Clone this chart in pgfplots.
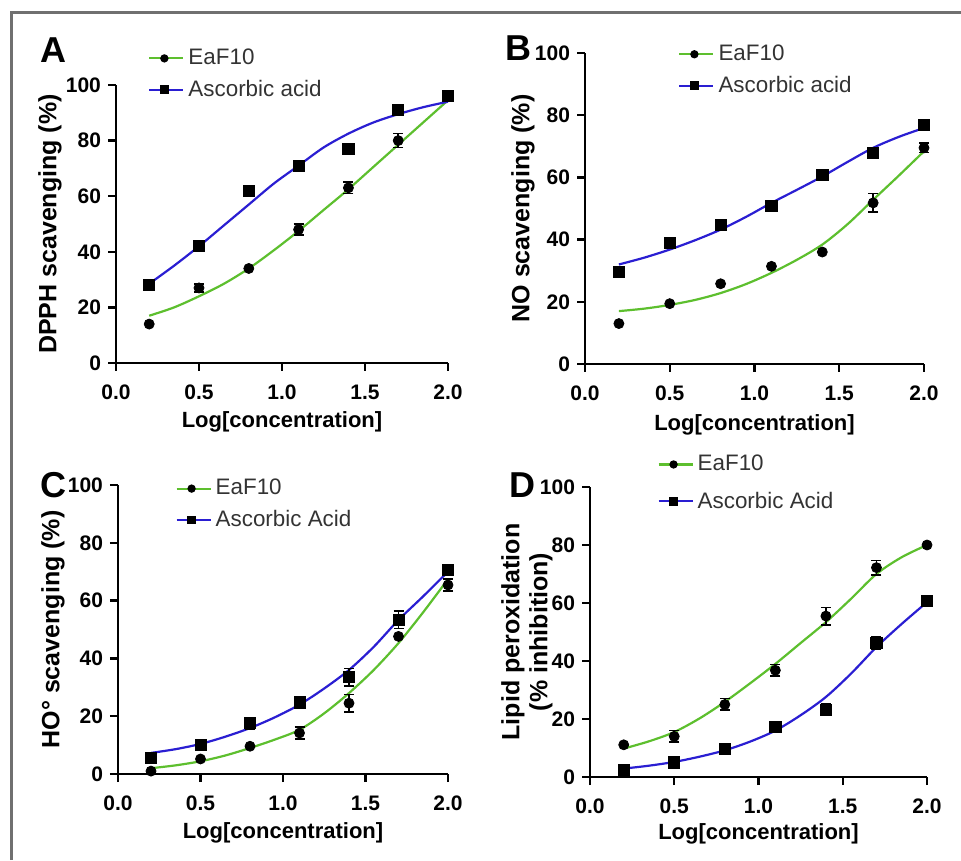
\documentclass[border=0pt]{standalone}
\usepackage{fontspec}
\setmainfont{Liberation Sans}
\usepackage{pgfplots}
\pgfplotsset{compat=1.18}
\definecolor{grn}{HTML}{5DBF2E}
\definecolor{blu}{HTML}{2A1ED2}
\definecolor{frame}{HTML}{707070}

\pgfplotsset{
  panel/.style={
    scale only axis, clip=false,
    axis lines*=left,
    axis line style={line width=1.2pt},
    tick align=outside, major tick length=4pt,
    every tick/.style={black, line width=1.2pt},
    xtick pos=bottom, ytick pos=left,
    xmin=0, xmax=2, ymin=0, ymax=100,
    xtick={0,0.5,1,1.5,2}, ytick={0,20,40,60,80,100},
    /pgf/number format/assume math mode=true,
    ticklabel style={font=\bfseries\fontsize{10.5}{12}\selectfont},
    xticklabel style={yshift=-3.5pt, /pgf/number format/.cd, fixed, fixed zerofill, precision=1},
    yticklabel style={/pgf/number format/.cd, fixed, precision=0},
    xlabel={Log[concentration]},
    xlabel style={font=\bfseries\fontsize{11}{13}\selectfont},
    ylabel style={font=\bfseries\fontsize{12.5}{14}\selectfont, align=center},
    legend style={draw=none, fill=none, anchor=north west, inner sep=0pt,
      row sep=2.2pt, nodes={inner sep=2pt, text=black!80},
      font=\fontsize{11.2}{13}\selectfont},
    legend cell align=left,
    legend image code/.code={\draw[mark repeat=2,mark phase=2,#1]
      plot coordinates {(0pt,0pt)(7.5pt,0pt)(15pt,0pt)};
      \path (15pt,0pt) -- (17pt,0pt);},
    error bars/y dir=both, error bars/y explicit,
    error bars/error bar style={black, line width=0.8pt},
    error bars/error mark options={rotate=90, mark size=2.5pt, black, line width=0.8pt},
  },
  fitg/.style={grn, line width=1.1pt, smooth, forget plot},
  fitb/.style={blu, line width=1.1pt, smooth, forget plot},
  ptc/.style={only marks, mark=*, mark size=2.5pt, black, forget plot},
  pts/.style={only marks, mark=square*, mark size=2.8pt, black, forget plot},
}

\begin{document}
\begin{tikzpicture}
\useasboundingbox (0pt,0pt) rectangle (480.5pt,430pt);
\draw[frame, line width=1.5pt] (5.5pt,0pt) -- (5.5pt,423.5pt) -- (480.5pt,423.5pt);

% Panel A
\begin{axis}[panel, at={(58pt,248.5pt)}, anchor=south west,
  width=166pt, height=139pt,
  ylabel={DPPH scavenging (\%)},
  xlabel style={at={(axis description cs:0.5,-0.21)}, anchor=center},
  ylabel style={at={(axis description cs:-0.199,0.5)}, anchor=center},
  legend style={at={(0.096,1.145)}}]
\addlegendimage{grn, line width=1.1pt, mark=*, mark options={black, scale=0.75}}
\addlegendentry{EaF10}
\addlegendimage{blu, line width=1.1pt, mark=square*, mark options={black, scale=0.8}}
\addlegendentry{Ascorbic acid}
\addplot[fitg] coordinates {(0.2,17)(0.35,20)(0.5,24)(0.65,28.5)(0.8,34)(0.95,40.5)(1.1,47.5)(1.25,55)(1.4,62.5)(1.55,70.5)(1.7,78.5)(1.85,86.5)(2.0,94.5)};
\addplot[fitb] coordinates {(0.2,28.5)(0.35,35)(0.5,42)(0.65,49.5)(0.8,57)(0.95,64.5)(1.1,71)(1.25,77.5)(1.4,82.5)(1.55,86.5)(1.7,89.5)(1.85,92)(2.0,94)};
\addplot[ptc] coordinates {(0.2,14) (0.5,27) +- (0,1.5) (0.8,34) (1.1,48) +- (0,2) (1.4,63) +- (0,2) (1.7,80) +- (0,2.5) (2.0,96) +- (0,1)};
\addplot[pts] coordinates {(0.2,28) (0.5,42) (0.8,62) +- (0,1.5) (1.1,71) +- (0,1) (1.4,77) +- (0,1) (1.7,91) +- (0,1) (2.0,96) +- (0,1.5)};
\end{axis}

% Panel B
\begin{axis}[panel, at={(292.5pt,248pt)}, anchor=south west,
  width=169.5pt, height=155.5pt,
  ylabel={NO scavenging (\%)},
  xlabel style={at={(axis description cs:0.5,-0.195)}, anchor=center},
  ylabel style={at={(axis description cs:-0.183,0.5)}, anchor=center},
  legend style={at={(0.274,1.04)}}]
\addlegendimage{grn, line width=1.1pt, mark=*, mark options={black, scale=0.75}}
\addlegendentry{EaF10}
\addlegendimage{blu, line width=1.1pt, mark=square*, mark options={black, scale=0.8}}
\addlegendentry{Ascorbic acid}
\addplot[fitg] coordinates {(0.2,17)(0.35,17.8)(0.5,19)(0.65,20.6)(0.8,22.8)(0.95,25.7)(1.1,29.3)(1.25,33.5)(1.4,38.4)(1.55,45)(1.7,52.8)(1.85,60.5)(2.0,68.4)};
\addplot[fitb] coordinates {(0.2,32)(0.35,34.2)(0.5,36.8)(0.65,39.8)(0.8,43.2)(0.95,47.3)(1.1,51.8)(1.25,56)(1.4,60.3)(1.55,65)(1.7,69.5)(1.85,73)(2.0,75.9)};
\addplot[ptc] coordinates {(0.2,13) (0.5,19.4) (0.8,25.8) (1.1,31.4) (1.4,36) (1.7,51.8) +- (0,3) (2.0,69.5) +- (0,1.5)};
\addplot[pts] coordinates {(0.2,29.5) (0.5,38.9) +- (0,1.5) (0.8,44.8) (1.1,50.9) +- (0,1) (1.4,60.7) (1.7,68) (2.0,77) +- (0,1)};
\end{axis}

% Panel C
\begin{axis}[panel, at={(59pt,43pt)}, anchor=south west,
  width=165pt, height=144.5pt,
  ylabel={HO\textdegree\ scavenging (\%)},
  xlabel style={at={(axis description cs:0.5,-0.205)}, anchor=center},
  ylabel style={at={(axis description cs:-0.197,0.5)}, anchor=center},
  legend style={at={(0.173,1.035)}}]
\addlegendimage{grn, line width=1.1pt, mark=*, mark options={black, scale=0.75}}
\addlegendentry{EaF10}
\addlegendimage{blu, line width=1.1pt, mark=square*, mark options={black, scale=0.8}}
\addlegendentry{Ascorbic Acid}
\addplot[fitg] coordinates {(0.2,2)(0.35,3)(0.5,4.4)(0.65,6.4)(0.8,9)(0.95,11.9)(1.1,15.3)(1.25,21)(1.4,28)(1.55,36)(1.7,45.3)(1.85,56)(2.0,67.4)};
\addplot[fitb] coordinates {(0.2,7.3)(0.35,8.6)(0.5,10.4)(0.65,12.9)(0.8,15.9)(0.95,19.6)(1.1,24)(1.25,29.6)(1.4,36)(1.55,44)(1.7,53.3)(1.85,61.5)(2.0,70)};
\addplot[ptc] coordinates {(0.2,1) (0.5,5.2) (0.8,9.6) (1.1,14.2) +- (0,2) (1.4,24.5) +- (0,3) (1.7,47.6) (2.0,65.4) +- (0,2)};
\addplot[pts] coordinates {(0.2,5.5) (0.5,10.1) (0.8,17.6) +- (0,2) (1.1,24.8) (1.4,33.5) +- (0,3) (1.7,53.3) +- (0,3) (2.0,70.6) +- (0,1)};
\end{axis}

% Panel D
\begin{axis}[panel, at={(295pt,41.5pt)}, anchor=south west,
  width=168.5pt, height=145pt,
  ylabel={Lipid peroxidation\\(\% inhibition)},
  xlabel style={at={(axis description cs:0.5,-0.195)}, anchor=center},
  ylabel style={at={(axis description cs:-0.187,0.5)}, anchor=center},
  legend style={at={(0.199,1.125)}, row sep=5pt}]
\addlegendimage{grn, line width=1.1pt, mark=*, mark options={black, scale=0.75}}
\addlegendentry{EaF10}
\addlegendimage{blu, line width=1.1pt, mark=square*, mark options={black, scale=0.8}}
\addlegendentry{Ascorbic Acid}
\addplot[fitg] coordinates {(0.2,9.8)(0.35,12.3)(0.5,15.5)(0.65,20.2)(0.8,25.9)(0.95,32.3)(1.1,39)(1.25,46.2)(1.4,53.4)(1.55,61.5)(1.7,70)(1.85,75.8)(2.0,80)};
\addplot[fitb] coordinates {(0.2,2.9)(0.35,3.9)(0.5,5.2)(0.65,7)(0.8,9.2)(0.95,12.2)(1.1,16)(1.25,21.3)(1.4,27.6)(1.55,35.7)(1.7,44.8)(1.85,52.8)(2.0,60.3)};
\addplot[ptc] coordinates {(0.2,11.1) (0.5,14) +- (0,2) (0.8,25) +- (0,2) (1.1,36.8) +- (0,2) (1.4,55.5) +- (0,3) (1.7,72.2) +- (0,2.5) (2.0,80)};
\addplot[pts] coordinates {(0.2,2.3) +- (0,1) (0.5,5) (0.8,9.8) (1.1,17.2) +- (0,1) (1.4,23.2) +- (0,2) (1.7,46.2) +- (0,2) (2.0,60.7) +- (0,1)};
\end{axis}

\node[font=\bfseries\fontsize{18}{18}\selectfont] at (26.5pt,405pt) {A};
\node[font=\bfseries\fontsize{18}{18}\selectfont] at (259pt,406pt) {B};
\node[font=\bfseries\fontsize{18}{18}\selectfont] at (26.5pt,187.5pt) {C};
\node[font=\bfseries\fontsize{18}{18}\selectfont] at (261pt,187.5pt) {D};
\end{tikzpicture}
\end{document}
